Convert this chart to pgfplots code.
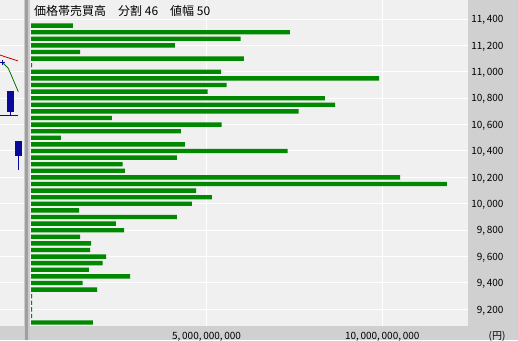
\documentclass[border=0pt]{standalone}
\usepackage{pgfplots}
\pgfplotsset{compat=1.18}
\usepackage{fontspec}
\setmainfont{Noto Sans CJK JP}
\definecolor{bg}{HTML}{F0F0F0}
\definecolor{strip}{HTML}{D0D0D0}
\definecolor{barg}{HTML}{008800}
\definecolor{cblue}{HTML}{0A0A9A}
\begin{document}
\begin{tikzpicture}[x=1pt,y=1pt]
\useasboundingbox (0,0) rectangle (518,340);
\fill[strip] (0,0) rectangle (518,340);
\fill[bg] (0,14) rectangle (468,340);
% left candlestick fragment
\begin{axis}[at={(0pt,14pt)}, anchor=south west, scale only axis,
  width=24pt, height=326pt, xmin=0, xmax=24, ymin=9074, ymax=11544,
  scaled ticks=false,
  axis line style={draw=none}, major tick length=0pt,
  xtick=\empty, ytick={9200,9400,...,11400}, yticklabel=\empty,
  ymajorgrids, grid style={white, line width=1pt}, clip=true]
\addplot[red!75!black, line width=0.8pt] coordinates {(0,11127) (18,11082)};
\addplot[green!45!black, line width=0.8pt] coordinates {(3.3,11064) (8.3,11027) (18.3,10849)};
\addplot[cblue, only marks, mark=+, mark size=2.5pt, line width=1pt] coordinates {(2.7,11067)};
\addplot[cblue, line width=6.7pt] coordinates {(10.7,10857) (10.7,10698)};
\addplot[cblue, line width=0.8pt] coordinates {(10.7,10698) (10.7,10673)};
\addplot[cblue, line width=0.8pt] coordinates {(0,10673) (18,10673)};
\addplot[cblue, line width=6.7pt] coordinates {(18.3,10476) (18.3,10364)};
\addplot[cblue, line width=0.8pt] coordinates {(18.3,10364) (18.3,10256)};
\end{axis}
% separator
\fill[gray!40] (23.5,0) rectangle (30,340);
\fill[gray!75] (25.3,0) rectangle (28.3,340);
% main chart
\begin{axis}[at={(30pt,14pt)}, anchor=south west, scale only axis,
  width=438pt, height=326pt,
  xmin=-0.0285, xmax=12.443, ymin=9074, ymax=11544,
  scaled ticks=false,
  axis line style={draw=none}, major tick length=0pt,
  xtick={5,10}, xticklabels={{5,\,000,\,000,\,000},{10,\,000,\,000,\,000}},
  ytick={9200,9400,...,11400},
  yticklabels={{9,\,200},{9,\,400},{9,\,600},{9,\,800},{10,\,000},{10,\,200},{10,\,400},{10,\,600},{10,\,800},{11,\,000},{11,\,200},{11,\,400}},
  yticklabel pos=right,
  tick label style={font=\fontsize{10}{12}\selectfont},
  yticklabel style={anchor=east, xshift=39pt, yshift=-1pt},
  xticklabel style={yshift=-2.5pt},
  grid=major, grid style={white, line width=1pt},
  clip=true]
\addplot[xbar, fill=barg, draw=none, bar width=33] coordinates {
(1.19,11350) (7.37,11300) (5.97,11250) (4.10,11200) (1.40,11150) (6.06,11100)
(0.03,11050) (5.41,11000) (9.91,10950) (5.57,10900) (5.03,10850) (8.37,10800)
(8.66,10750) (7.62,10700) (2.30,10650) (5.43,10600) (4.27,10550) (0.85,10500)
(4.38,10450) (7.31,10400) (4.15,10350) (2.61,10300) (2.67,10250) (10.51,10200)
(11.84,10150) (4.70,10100) (5.15,10050) (4.58,10000) (1.37,9950) (4.15,9900)
(2.42,9850) (2.65,9800) (1.40,9750) (1.71,9700) (1.68,9650) (2.14,9600)
(2.04,9550) (1.65,9500) (2.82,9450) (1.47,9400) (1.88,9350) (0.03,9300)
(0.03,9250) (0.03,9200) (0.03,9150) (1.76,9100)
};
\end{axis}
\node[anchor=west, font=\fontsize{12}{14}\selectfont, inner sep=0pt] at (34,329) {価格帯売買高　分割 46　値幅 50};
\node[font=\fontsize{10}{12}\selectfont, inner sep=0pt] at (497,4) {(円)};
\end{tikzpicture}
\end{document}
